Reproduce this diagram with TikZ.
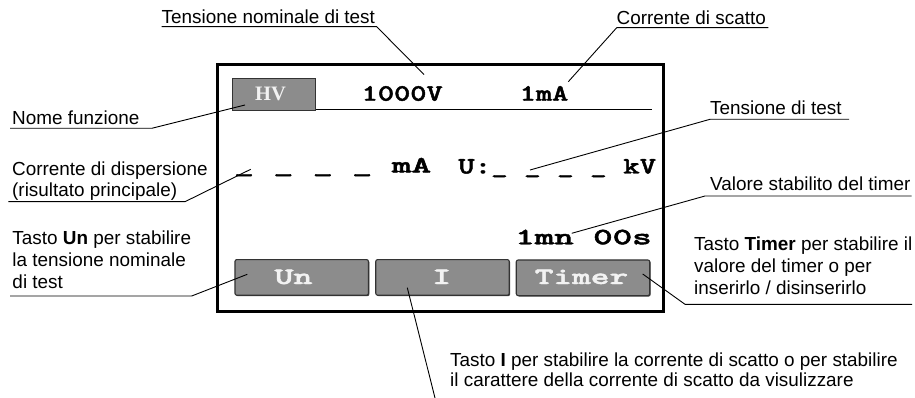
\documentclass[tikz,border=0pt]{standalone}
\usepackage{fontspec}
\setmainfont{Liberation Sans}
\newfontfamily\hvserif{Liberation Serif}
\newfontfamily\lcdff{lmmonolt10-bold.otf}[FakeBold=1.6]
\usepackage{graphicx}
\usetikzlibrary{shadows}
\definecolor{btngray}{HTML}{8C8C8C}
\definecolor{btnedge}{HTML}{333333}
\definecolor{btntext}{HTML}{F2F2F2}
\newcommand\lcdfont{\lcdff\fontsize{23.5}{26}\selectfont}
\newcommand\lcd[2]{\resizebox{#1}{\height}{\lcdfont #2}}
\tikzset{
  lbl/.style={inner sep=0pt, anchor=base west, font=\fontsize{18.9}{21.7}\selectfont, align=left},
  lcdt/.style={inner sep=0pt, anchor=base west},
  btn/.style={draw=btnedge, fill=btngray, line width=1.1pt, rounded corners=2pt,
    minimum width=133.5pt, minimum height=35.7pt, inner sep=0pt,
    general shadow={shadow xshift=0.9pt, shadow yshift=-0.9pt, fill=black!75}},
  btnt/.style={inner sep=0pt, anchor=base west, text=btntext},
  leader/.style={line width=0.9pt},
}
\begin{document}
\begin{tikzpicture}[x=1pt,y=-1pt]
\useasboundingbox (0,0) rectangle (915,398);
% LCD frame
\node[draw, line width=3pt, minimum width=446pt, minimum height=246pt, inner sep=0pt] (lcd) at (440.5,188) {};
% HV box
\node[draw=btnedge, fill=btngray, line width=0.8pt, minimum width=83.4pt, minimum height=32.4pt, inner sep=0pt] (hv) at (274,94.5) {};
\node[inner sep=0pt, anchor=base, text=btntext, font=\hvserif\bfseries\fontsize{20.5}{24}\selectfont] (hvt) at (270.5,101) {HV};
\coordinate (sepR) at (651.7,109.3);
\draw[line width=1.3pt] (hv.east |- sepR) -- (sepR);
% LCD texts
\node[lcdt] (r1a) at (361.5,100.7) {\lcd{81pt}{1000V}};
\node[lcdt] (r1b) at (519.5,100.7) {\lcd{48.6pt}{1mA}};
\node[lcdt] (r2a) at (234,172.5) {\lcd{197pt}{\_ \_ \_ \_ mA}};
\node[lcdt] (r2b) at (458,173.5) {\lcd{198pt}{U:\_ \_ \_ \_ kV}};
\node[lcdt] (r3) at (515,244.3) {\lcd{136.5pt}{1mn 00s}};
% buttons
\node[btn] (bun) at (301.7,277.4) {};
\node[btn] (bi) at (442.5,277.4) {};
\node[btn] (btimer) at (583,277.8) {};
\node[btnt] (bunt) at (274.3,284) {\lcd{38pt}{Un}};
\node[btnt, anchor=base] (bit) at (441.7,284) {\lcd{19pt}{I}};
\node[btnt] (btimert) at (534.5,284) {\lcd{93.5pt}{Timer}};
% labels (multi-line: anchored at the baseline of the last line)
\node[lbl] (t1) at (161.5,24) {Tensione nominale di test};
\node[lbl] (t2) at (616.5,25) {Corrente di scatto};
\node[lbl] (t3) at (12,125) {Nome funzione};
\node[lbl] (t4) at (12,196.7) {Corrente di dispersione\\(risultato principale)};
\node[lbl] (t5) at (710,115) {Tensione di test};
\node[lbl] (t6) at (710,190.7) {Valore stabilito del timer};
\node[lbl] (t7) at (12.3,288.3) {Tasto \textbf{Un} per stabilire\\la tensione nominale\\di test};
\node[lbl, font=\fontsize{18.9}{22}\selectfont] (t8) at (694,294.3) {Tasto \textbf{Timer} per stabilire il\\valore del timer o per\\inserirlo / disinserirlo};
\node[lbl, font=\fontsize{18.9}{20.3}\selectfont] (t9) at (450,386.7) {Tasto \textbf{I} per stabilire la corrente di scatto o per stabilire\\il carattere della corrente di scatto da visulizzare};
% leader coordinates
\coordinate (u1a) at (161.7,26.7); \coordinate (u1b) at (376.7,26.7); \coordinate (p1) at (424,74.5);
\coordinate (u2a) at (768.3,27.7); \coordinate (u2b) at (616.7,27.7); \coordinate (p2) at (568.3,81.7);
\coordinate (u3a) at (10,128.3); \coordinate (u3b) at (151.7,128.3); \coordinate (p3) at (245,105);
\coordinate (u4a) at (8.3,201.7); \coordinate (u4b) at (185,201.7); \coordinate (p4) at (250.7,169.3);
\coordinate (u5a) at (849,119.3); \coordinate (u5b) at (710,119.3); \coordinate (p5) at (530,170);
\coordinate (u6a) at (911.7,196); \coordinate (u6b) at (705,196); \coordinate (p6) at (571.7,233.3);
\coordinate (u7a) at (10,296); \coordinate (u7b) at (191.7,296); \coordinate (p7) at (247.3,274.3);
\coordinate (u8a) at (912,304.3); \coordinate (u8b) at (685,304.3); \coordinate (p8) at (642.7,274);
\coordinate (p9) at (407.3,287.7); \coordinate (e9) at (435,398);
\draw[leader] (u1a) -- (u1b) -- (p1);
\draw[leader] (u2a) -- (u2b) -- (p2);
\draw[leader] (u3a) -- (u3b) -- (p3);
\draw[leader] (u4a) -- (u4b) -- (p4);
\draw[leader] (u5a) -- (u5b) -- (p5);
\draw[leader] (u6a) -- (u6b) -- (p6);
\draw[leader] (u7a) -- (u7b) -- (p7);
\draw[leader] (u8a) -- (u8b) -- (p8);
\draw[leader] (p9) -- (e9);
\end{tikzpicture}
\end{document}
